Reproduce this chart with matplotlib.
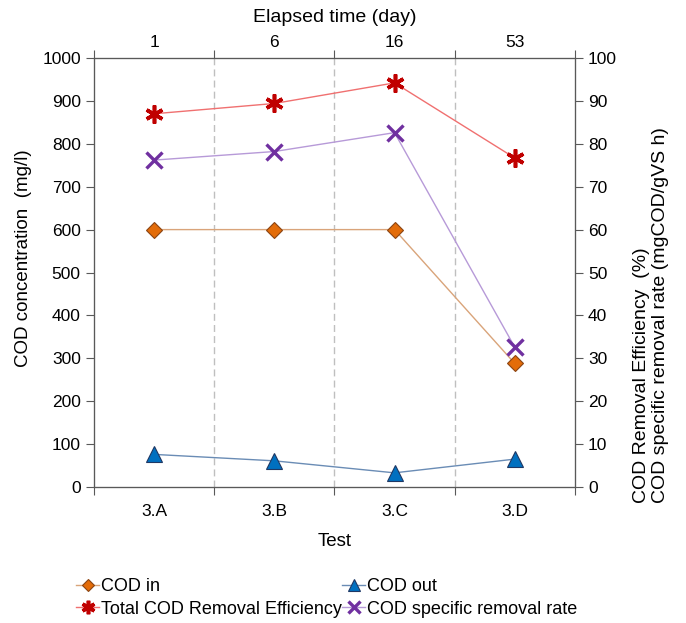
import numpy as np
import matplotlib
matplotlib.use("Agg")
import matplotlib.pyplot as plt

plt.rcParams['font.family'] = ['Liberation Sans', 'DejaVu Sans']

# datos
tests = ["3.A", "3.B", "3.C", "3.D"]
days = ["1", "6", "16", "53"]
cod_in = [600, 600, 600, 288]
cod_out = [76, 61, 33, 65]
total_eff = [87.0, 89.4, 94.2, 76.7]
spec_rate = [76.2, 78.2, 82.6, 32.6]

x = np.arange(len(tests))
ax_col = '#595959'
W, H = 686, 623

fig = plt.figure(figsize=(6.86, 6.23), dpi=100)
ax = fig.add_axes([0.137, 0.2183, 0.701, 0.6886])
ax2 = ax.twinx()
ax_top = ax.twiny()

# lineas punteadas entre categorias
for b in [0.5, 1.5, 2.5]:
    ax.axvline(b, color='#BFBFBF', ls=(0, (5, 3)), lw=1, zorder=0)

l1, = ax.plot(x, cod_in, color='#D9A47A', lw=1, marker='D', ms=8.5,
              mfc='#E36C09', mec='#8B4513', mew=0.8, label='COD in')
l2, = ax.plot(x, cod_out, color='#6A8CB5', lw=1, marker='^', ms=11,
              mfc='#0070C0', mec='#1F3864', mew=0.8, label='COD out')
l3, = ax2.plot(x, total_eff, color='#F07070', lw=1, marker=(6, 2, 0), ms=13,
               mec='#C00000', mew=2.6, label='Total COD Removal Efficiency')
l4, = ax2.plot(x, spec_rate, color='#B79AD8', lw=1, marker='x', ms=11,
               mec='#7030A0', mew=2.4, label='COD specific removal rate')

ax.set_xlim(-0.5, 3.5)
ax.set_ylim(0, 1000)
ax.set_yticks(range(0, 1001, 100))
ax2.set_ylim(0, 100)
ax2.set_yticks(range(0, 101, 10))

# eje x inferior: etiquetas en el centro, marcas en los bordes
ax.set_xticks([-0.5, 0.5, 1.5, 2.5, 3.5])
ax.set_xticklabels([])
ax.set_xticks(x, minor=True)
ax.set_xticklabels(tests, minor=True)
ax.tick_params(axis='x', which='minor', length=0, labelsize=12.5, pad=12)
ax.tick_params(axis='x', which='major', direction='out', length=6, color=ax_col)
ax.set_xlabel('Test', fontsize=13.5, labelpad=10)

# eje x superior
ax_top.set_xlim(-0.5, 3.5)
ax_top.set_xticks([-0.5, 0.5, 1.5, 2.5, 3.5])
ax_top.set_xticklabels([])
ax_top.set_xticks(x, minor=True)
ax_top.set_xticklabels(days, minor=True)
ax_top.tick_params(axis='x', which='minor', length=0, labelsize=12.5, pad=6)
ax_top.tick_params(axis='x', which='major', direction='out', length=6, color=ax_col)
ax_top.set_xlabel('Elapsed time (day)', fontsize=14, labelpad=9)

ax.tick_params(axis='y', direction='out', length=6, color=ax_col, labelsize=12.5)
ax2.tick_params(axis='y', direction='out', length=6, color=ax_col, labelsize=12.5)

# etiquetas de los ejes y
fig.text(24 / W, 1 - 258 / H, 'COD concentration  (mg/l)', rotation=90,
         ha='center', va='center', fontsize=13.5)
fig.text(651 / W, 1 - 315 / H,
         'COD Removal Efficiency  (%)\nCOD specific removal rate (mgCOD/gVS h)',
         rotation=90, ha='center', va='center', multialignment='left',
         fontsize=14, linespacing=1.1)

for a in (ax, ax2, ax_top):
    for s in a.spines.values():
        s.set_color(ax_col)

fig.legend([l1, l3, l2, l4],
           ['COD in', 'Total COD Removal Efficiency', 'COD out', 'COD specific removal rate'],
           ncol=2, loc='upper left', bbox_to_anchor=(0.1, 1 - 571 / H), frameon=False,
           fontsize=13, handlelength=1.3, handletextpad=0.1, columnspacing=0.0,
           labelspacing=0.3, borderaxespad=0, markerscale=0.75)

fig.savefig('out.png', dpi=100)
